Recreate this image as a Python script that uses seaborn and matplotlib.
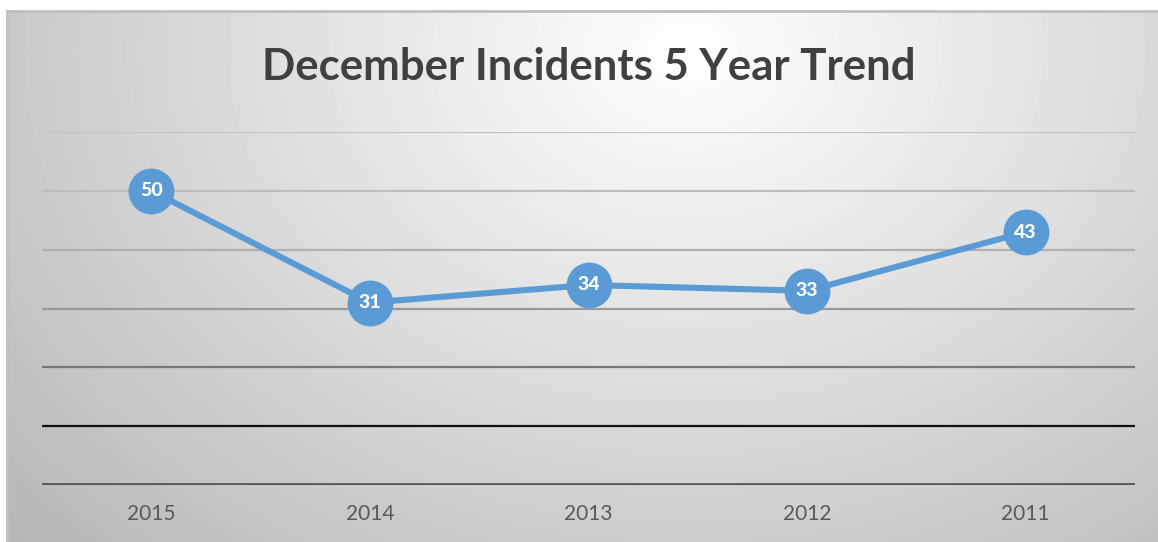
import numpy as np
import matplotlib.pyplot as plt
import seaborn as sns

years = ["2015", "2014", "2013", "2012", "2011"]
incidents = [50, 31, 34, 33, 43]
grid_values = [10, 20, 30, 40, 50, 60]
grid_colors = ["#111111", "#777777", "#999999", "#b0b0b0", "#bdbdbd", "#c4c4c4"]

sns.set_theme(style="white")
plt.rcParams["font.family"] = ["Lato", "DejaVu Sans"]

W, H = 1158, 542
fig = plt.figure(figsize=(W / 100, H / 100), dpi=100)
fig.patch.set_facecolor("white")

# radial gradient behind the chart (frame is cropped at right and bottom)
bg = fig.add_axes([7 / W, 0, 1 - 7 / W, 1 - 11 / H])
yy, xx = np.mgrid[0:531, 0:1151]
r = np.sqrt(((xx - 680) / 880.0) ** 2 + ((yy - 40) / 680.0) ** 2)
shade = np.clip(1.0 - 0.27 * r, 0, 1)
bg.imshow(shade, cmap="gray", vmin=0, vmax=1, aspect="auto",
          extent=[0, 1, 0, 1], origin="upper", interpolation="bilinear")
bg.set_xticks([])
bg.set_yticks([])
for side, s in bg.spines.items():
    if side in ("left", "top"):
        s.set_color("#bfbfbf")
        s.set_linewidth(2)
    else:
        s.set_visible(False)

ax = fig.add_axes([42 / W, (H - 485) / H, 1093 / W, (485 - 132) / H])
ax.patch.set_alpha(0)

for v, c in zip(grid_values, grid_colors):
    ax.axhline(v, color=c, lw=1.6, zorder=1)
ax.axhline(0, color="#555555", lw=3.4, zorder=1)

sns.pointplot(x=years, y=incidents, ax=ax, color="#5b9bd5",
              markersize=33, linewidth=4.4, markeredgewidth=0, zorder=3)

for i, v in enumerate(incidents):
    ax.text(i, v, str(v), ha="center", va="center", color="white",
            fontsize=14, fontweight="black", zorder=5)

ax.set_xlim(-0.5, 4.5)
ax.set_ylim(0, 60)
ax.set_yticks([])
ax.set_xlabel("")
ax.set_ylabel("")
ax.tick_params(axis="x", length=0, pad=14, labelsize=15, labelcolor="#595959")
sns.despine(ax=ax, left=True, bottom=True)

fig.text(0.508, 1 - 67 / H, "December Incidents 5 Year Trend", ha="center",
         va="center", fontsize=31.5, fontweight="bold", color="#404040")

fig.savefig("out.png", dpi=100)
